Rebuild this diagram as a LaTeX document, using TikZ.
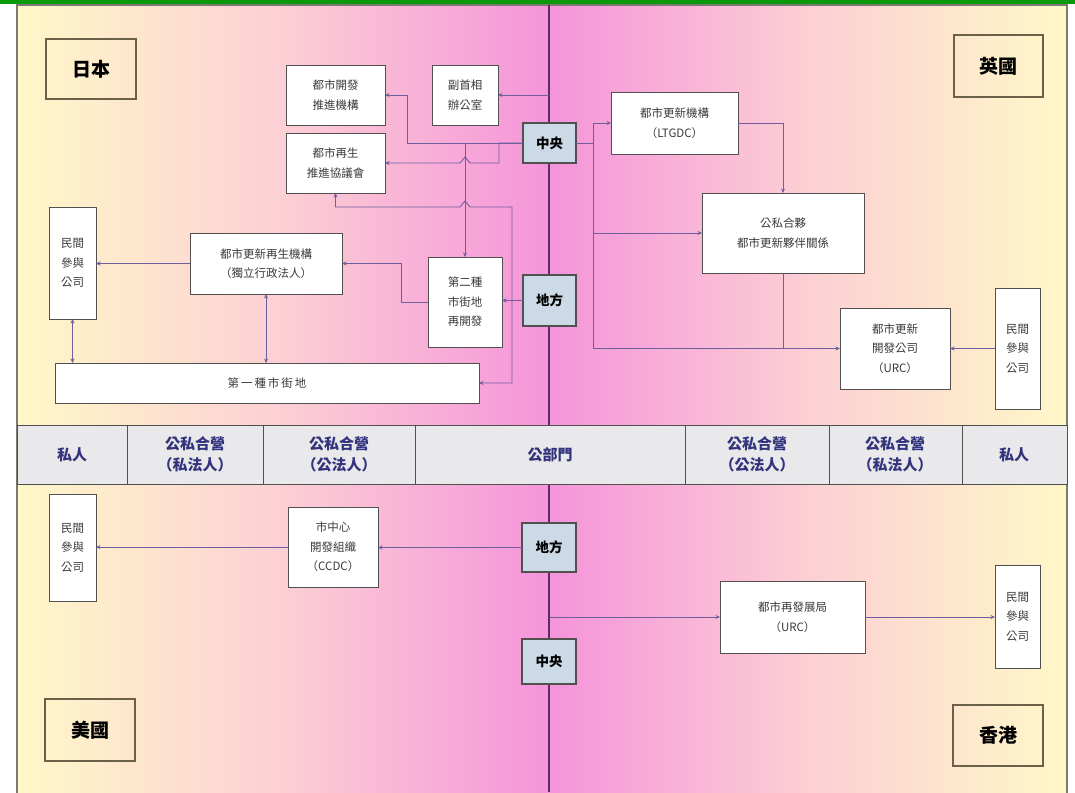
\documentclass[tikz,border=0pt]{standalone}
\usepackage{fontspec}
\setmainfont{Noto Sans CJK TC}
\usetikzlibrary{arrows.meta}
\definecolor{bgY}{HTML}{FFF8C8}
\definecolor{bgM}{HTML}{FCCFD4}
\definecolor{bgP}{HTML}{F594DA}
\definecolor{gbar}{HTML}{0A990A}
\definecolor{framec}{HTML}{7A7A70}
\definecolor{clinec}{HTML}{5E2E5E}
\definecolor{connc}{HTML}{6E5E9E}
\definecolor{boxline}{HTML}{505050}
\definecolor{boxtext}{HTML}{3A3A3A}
\definecolor{lvlfill}{HTML}{CCD9E6}
\definecolor{bandfill}{HTML}{E9E9EB}
\definecolor{bandtext}{HTML}{34347E}
\definecolor{ctryline}{HTML}{6B6048}
\newcommand{\placebox}[7]{\node[#1, minimum width=#4pt-#2pt, minimum height=#5pt-#3pt, anchor=center] (#6) at ({(#2+#4)/2},{(#3+#5)/2}) {#7};}
\tikzset{
  box/.style={draw=boxline, fill=white, line width=1pt, inner sep=0pt, outer sep=0pt, align=center, text=boxtext, font=\fontsize{11.5}{19.5}\selectfont},
  lvl/.style={draw=boxline, fill=lvlfill, line width=1.2pt, inner sep=0pt, outer sep=0pt, align=center, text=black, font=\fontsize{13.5}{15}\selectfont\bfseries},
  ctry/.style={draw=ctryline, line width=1.2pt, inner sep=0pt, outer sep=0pt, align=center, text=black, font=\fontsize{19}{21}\selectfont\bfseries},
  bandlbl/.style={align=center, text=bandtext, inner sep=0pt, font=\fontsize{15}{21}\selectfont\bfseries},
  conn/.style={draw=connc, line width=0.9pt, -{Stealth[length=4.5pt,width=4pt]}},
  conn2/.style={draw=connc, line width=0.9pt, {Stealth[length=4.5pt,width=4pt]}-{Stealth[length=4.5pt,width=4pt]}},
  plain/.style={draw=connc, line width=0.9pt}
}
\begin{document}
\begin{tikzpicture}[x=1pt,y=-1pt]
\useasboundingbox (0,0) rectangle (1075,792);
\fill[white] (0,0) rectangle (1075,792);
% background gradients
\shade[left color=bgY, right color=bgP, middle color=bgM] (17,5) rectangle (549,792);
\shade[left color=bgP, right color=bgY, middle color=bgM] (549,5) rectangle (1067,792);
\fill[gbar] (0,0) rectangle (1075,4.5);
\draw[framec, line width=1.2pt] (17,795) -- (17,5) -- (1067,5) -- (1067,795);
% central axis
\draw[clinec, line width=1.6pt] (549,5) -- (549,792);
% middle band
\draw[boxline, fill=bandfill, line width=1pt] (17,425) rectangle (1067,484);
\foreach \xx in {127,263,415,685,829,962} {\draw[boxline, line width=1pt] (\xx,425) -- (\xx,484);}
\node[bandlbl] (b1) at (72,454.5) {私人};
\node[bandlbl] (b2) at (195,454.5) {公私合營\\（私法人）};
\node[bandlbl] (b3) at (339,454.5) {公私合營\\（公法人）};
\node[bandlbl] (b4) at (550,454.5) {公部門};
\node[bandlbl] (b5) at (757,454.5) {公私合營\\（公法人）};
\node[bandlbl] (b6) at (895,454.5) {公私合營\\（私法人）};
\node[bandlbl] (b7) at (1014,454.5) {私人};
% country labels
\placebox{ctry}{46}{39}{136}{99}{jp}{日本}
\placebox{ctry}{954}{35}{1043}{97}{uk}{英國}
\placebox{ctry}{45}{699}{135}{761}{us}{美國}
\placebox{ctry}{953}{705}{1043}{766}{hk}{香港}
% level nodes
\placebox{lvl}{523}{123}{576}{163}{cT}{中央}
\placebox{lvl}{523}{275}{576}{326}{dT}{地方}
\placebox{lvl}{522}{523}{576}{572}{dB}{地方}
\placebox{lvl}{522}{639}{576}{684}{cB}{中央}
% Japan
\placebox{box}{286}{65}{385}{125}{udpo}{都市開發\\推進機構}
\placebox{box}{432}{65}{498}{125}{dpm}{副首相\\辦公室}
\placebox{box}{286}{133}{385}{193}{urpc}{都市再生\\推進協議會}
\placebox{box}{49}{207}{96}{319}{pjTL}{民間\\參與\\公司}
\placebox{box}{190}{233}{342}{294}{urra}{都市更新再生機構\\（獨立行政法人）}
\placebox{box}{428}{257}{502}{347}{typeB}{第二種\\市街地\\再開發}
\placebox{box}{55}{363}{479}{403}{typeA}{第\,一\,種\,市\,街\,地}
% UK
\placebox{box}{611}{92}{738}{154}{ltgdc}{都市更新機構\\（LTGDC）}
\placebox{box}{702}{193}{864}{273}{ppp}{公私合夥\\都市更新夥伴關係}
\placebox{box}{840}{308}{950}{389}{urcUK}{都市更新\\開發公司\\（URC）}
\placebox{box}{995}{288}{1040}{409}{pjTR}{民間\\參與\\公司}
% USA
\placebox{box}{49}{494}{96}{601}{pjBL}{民間\\參與\\公司}
\placebox{box}{288}{507}{378}{587}{ccdc}{市中心\\開發組織\\（CCDC）}
% Hong Kong
\placebox{box}{720}{581}{865}{653}{urcHK}{都市再發展局\\（URC）}
\placebox{box}{995}{565}{1040}{668}{pjBR}{民間\\參與\\公司}
% free ends on the central axis
\coordinate (ax1) at (549,95);
\coordinate (ax2) at (550,617);
% Japan connectors
\draw[conn] (ax1) -- (dpm.east |- ax1);
\draw[conn] (cT.west) -- (407,143) |- (udpo.east);
\draw[conn] (cT.west) -- (499,143) -- (499,163) -- (470,163) -- (465,157) -- (460,163) -- (urpc.east);
\draw[conn] (cT.west) -- (465,143) -- (typeB.north);
\draw[conn2] (urpc.south) |- (460,207) -- (465,201) -- (470,207) -- (512,207) |- (typeA.east);
\draw[conn] (dT.west) -- (typeB.east |- dT.west);
\draw[conn] (typeB.west) -- (401,302) |- (urra.east);
\draw[conn] (urra.west) -- (pjTL.east |- urra.west);
\draw[conn2] (urra.south) -- (urra.south |- typeA.north);
\draw[conn2] (pjTL.south) -- (pjTL.south |- typeA.north);
% UK connectors
\draw[conn] (cT.east) -- (593,143) |- (ltgdc.west);
\draw[conn] (cT.east) -- (593,143) |- (ppp.west);
\draw[conn] (cT.east) -- (593,143) |- (urcUK.west);
\draw[conn] (ltgdc.east) -| (ppp.north);
\draw[plain] (ppp.south) -- (ppp.south |- urcUK.west);
\draw[conn] (pjTR.west) -- (urcUK.east |- pjTR.west);
% USA connectors
\draw[conn] (dB.west) -- (ccdc.east |- dB.west);
\draw[conn] (ccdc.west) -- (pjBL.east |- ccdc.west);
% Hong Kong connectors
\draw[conn] (ax2) -- (urcHK.west |- ax2);
\draw[conn] (urcHK.east) -- (pjBR.west |- urcHK.east);
\end{tikzpicture}
\end{document}
